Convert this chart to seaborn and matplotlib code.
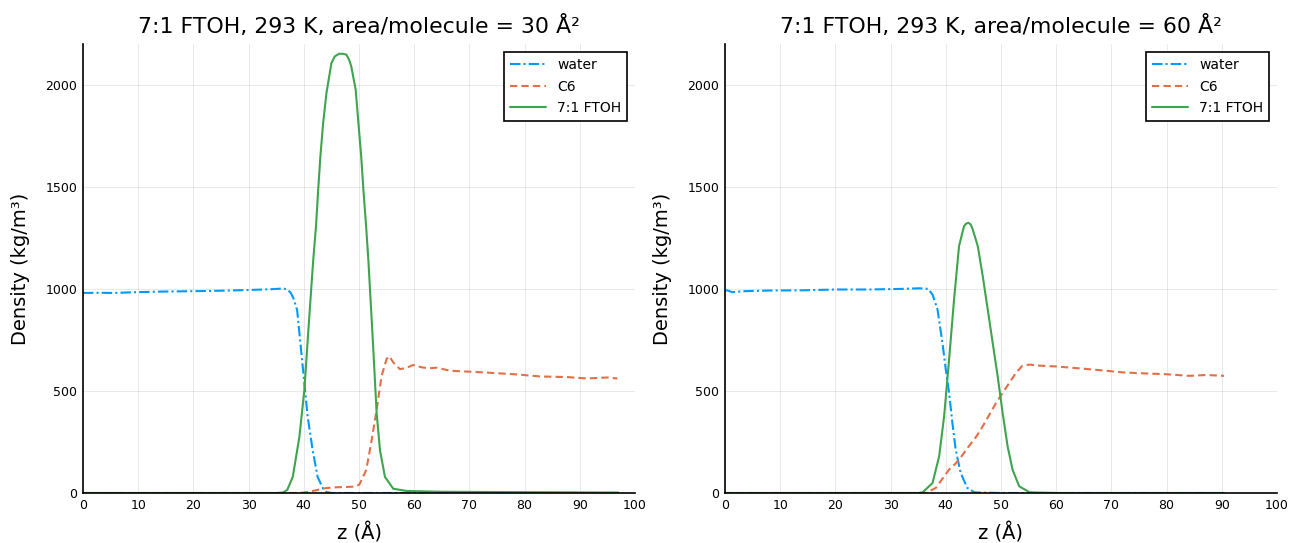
import numpy as np
import pandas as pd
import matplotlib
matplotlib.use("Agg")
import matplotlib.pyplot as plt
import seaborn as sns

# density profiles (z in Angstrom, density in kg/m^3)

# area/molecule = 30 A^2
z_water_30 = [0, 0.4, 3, 5.5, 9.7, 14.6, 20.6, 26.6, 32.7, 34.5, 36.3, 37.0, 37.6, 38.1, 38.8, 39.5,
              40.1, 40.7, 41.6, 42.5, 43.5, 44.1, 45, 50, 60, 70, 80, 90, 97]
d_water_30 = [982, 980, 981, 980, 984, 987, 989, 992, 997, 999, 1002, 997, 982, 956, 895, 702,
              538, 374, 210, 79, 21, 5, 0, 0, 0, 0, 0, 0, 0]

z_c6_30 = [0, 20, 38, 40, 42, 44, 46, 48.3, 49.5, 50.1, 51.3, 52.2, 53.2, 54.1, 55.0, 55.5,
           56.2, 57.4, 58.5, 59.8, 61.5, 62.8, 64.1, 66.5, 72.5, 78.6, 82.8, 87.7, 91.3, 95.0, 96.8]
d_c6_30 = [0, 0, 0, 2, 12, 24, 28, 30, 32, 43, 112, 244, 409, 574, 657, 670,
           640, 607, 612, 627, 615, 611, 614, 599, 591, 581, 571, 568, 561, 566, 561]

z_ftoh_30 = [0, 10, 20, 30, 35, 36.2, 37.0, 38.0, 39.2, 40.1, 41.0, 41.7, 42.2, 42.6, 43.0,
             43.5, 44.1, 45.0, 45.6, 46.4, 47.1, 47.7, 48.2, 48.6, 49.4, 49.9, 50.4, 50.8,
             51.3, 51.7, 52.5, 53.2, 53.8, 54.7, 56.2, 58.6, 65, 80, 97]
d_ftoh_30 = [0, 0, 0, 0, 0, 2, 15, 79, 275, 505, 866, 1139, 1303, 1484, 1648,
             1811, 1959, 2106, 2139, 2152, 2152, 2148, 2123, 2090, 1975, 1811, 1648, 1484,
             1303, 1139, 750, 390, 210, 79, 21, 10, 6, 4, 2]

# area/molecule = 60 A^2
z_water_60 = [0, 0.4, 1.3, 3.7, 8, 14, 20, 26, 32, 35.3, 36.8, 37.6, 38.5, 39.4, 40.0, 40.6,
              41.2, 41.8, 42.7, 43.9, 45.2, 50, 60, 70, 80, 90.4]
d_water_60 = [992, 993, 984, 989, 992, 993, 997, 997, 1000, 1003, 1000, 972, 899, 735, 605, 490,
              343, 212, 98, 25, 3, 0, 0, 0, 0, 0]

z_c6_60 = [0, 20, 36.4, 38.2, 39.4, 40.6, 41.8, 43.0, 44.2, 45.5, 46.7, 47.9, 49.1, 50.3,
           51.5, 52.7, 53.9, 55.2, 57.0, 59.9, 64.1, 69.0, 72.0, 75.0, 79.9, 84.1, 87.2, 90.4]
d_c6_60 = [0, 0, 0, 25, 70, 115, 145, 185, 230, 275, 327, 384, 441, 490,
           539, 588, 624, 629, 624, 620, 611, 599, 591, 587, 582, 574, 578, 574]

z_ftoh_60 = [0, 20, 35, 35.8, 37.6, 38.8, 39.7, 40.6, 41.5, 42.4, 43.3, 43.7, 44.1, 44.5,
             44.8, 45.8, 46.7, 47.6, 48.5, 49.4, 50.3, 51.2, 52.1, 53.3, 55.2, 60, 75, 90.4]
d_ftoh_60 = [0, 0, 0, 3, 49, 180, 376, 654, 948, 1209, 1307, 1320, 1324, 1316,
             1299, 1209, 1062, 899, 735, 572, 392, 229, 114, 33, 3, 0, 0, 0]

titles = ["7:1 FTOH, 293 K, area/molecule = 30 Å²",
          "7:1 FTOH, 293 K, area/molecule = 60 Å²"]
labels = ["water", "C6", "7:1 FTOH"]
colors = ["#009AFA", "#E26F46", "#3EA44E"]
styles = [(0, (5, 1.5, 1, 1.5)), (0, (3.5, 2)), "-"]

panels = [
    [(z_water_30, d_water_30), (z_c6_30, d_c6_30), (z_ftoh_30, d_ftoh_30)],
    [(z_water_60, d_water_60), (z_c6_60, d_c6_60), (z_ftoh_60, d_ftoh_60)],
]

sns.set_style("white")
plt.rcParams['font.family'] = ['DejaVu Sans']
plt.rcParams['text.color'] = 'black'
plt.rcParams['axes.labelcolor'] = 'black'
plt.rcParams['xtick.color'] = 'black'
plt.rcParams['ytick.color'] = 'black'

fig = plt.figure(figsize=(12.93, 5.43), dpi=100)
ax_lefts = [0.0642, 0.5607]
for i, series in enumerate(panels):
    ax = fig.add_axes([ax_lefts[i], 0.0921, 0.4269, 0.8269])
    for (z, d), lab, col, ls in zip(series, labels, colors, styles):
        df = pd.DataFrame({"z": z, "density": d})
        sns.lineplot(data=df, x="z", y="density", ax=ax, color=col, linestyle=ls,
                     linewidth=1.5, label=lab, estimator=None, sort=False)
    ax.set_xlim(0, 100)
    ax.set_ylim(0, 2200)
    ax.set_xticks(np.arange(0, 101, 10))
    ax.set_yticks([0, 500, 1000, 1500, 2000])
    ax.grid(True, color="black", alpha=0.1, linewidth=0.6)
    for s in ["top", "right"]:
        ax.spines[s].set_visible(False)
    for s in ["left", "bottom"]:
        ax.spines[s].set_color("black")
        ax.spines[s].set_linewidth(1.2)
    ax.tick_params(direction="in", length=4, width=1, colors="black", labelsize=9, pad=4)
    ax.set_xlabel("z (Å)", fontsize=14, labelpad=8)
    ax.set_ylabel("Density (kg/m³)", fontsize=14, labelpad=11)
    ax.set_title(titles[i], fontsize=15.8, pad=8)
    leg = ax.legend(loc="upper right", fontsize=10, frameon=True, fancybox=False,
                    edgecolor="black", framealpha=1, borderaxespad=0.6, handlelength=2.6,
                    labelspacing=0.55)
    leg.get_frame().set_linewidth(1.2)

fig.savefig("out.png", dpi=100)
